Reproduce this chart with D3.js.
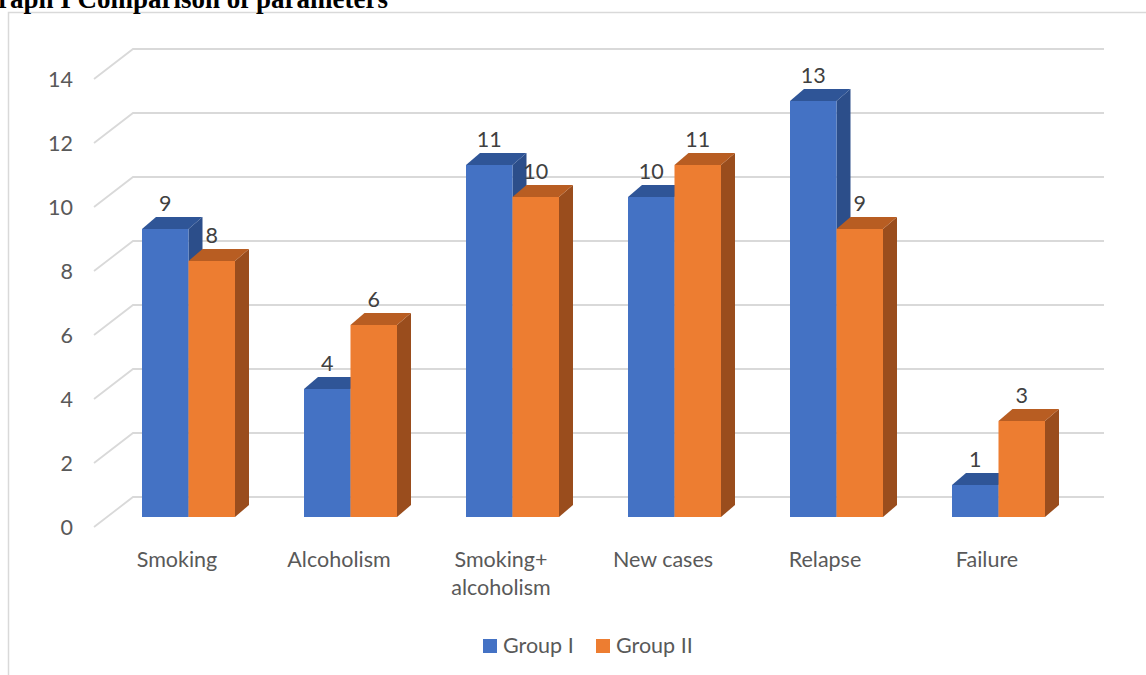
<!DOCTYPE html>
<html>
<head>
<meta charset="utf-8">
<script src="https://cdn.jsdelivr.net/npm/d3@7"></script>
<style>
  html, body { margin: 0; padding: 0; background: #fff; }
  svg { display: block; }
</style>
</head>
<body>
<svg id="chart" width="1146" height="675"></svg>
<script>
const categories = ["Smoking", "Alcoholism", "Smoking+\nalcoholism", "New cases", "Relapse", "Failure"];
const seriesNames = ["Group I", "Group II"];
const groupI  = [9, 4, 11, 10, 13, 1];
const groupII = [8, 6, 10, 11, 9, 3];
const yTicks = [0, 2, 4, 6, 8, 10, 12, 14];
const titleText = "Graph I Comparison of parameters";

const seriesValues = [groupI, groupII];
const colors = [
  {front: "#4472C4", top: "#2F5597", side: "#2C4E8A"},
  {front: "#ED7D31", top: "#B85D22", side: "#9A4D1D"}
];

const svg = d3.select("#chart");
const FONT = "Lato, 'Open Sans', sans-serif";
const TXT = "#595959";
const GRID = "#d9d9d9";

// geometry
const frontLeft = 94, frontRight = 1066;
const depthX = 39, depthY = 30;      // floor side diagonal
const barDX = 14, barDY = 12;        // bar depth
const barFrontOffset = 20;           // bar front base below back wall base

const x0 = d3.scaleBand().domain(categories).range([frontLeft, frontRight]);
const x1 = d3.scaleBand().domain(seriesNames).range([48, 141]);
// back wall y scale
const yBack = d3.scaleLinear().domain([0, 14]).range([497, 49]);
const yBar = v => yBack(v) + barFrontOffset;
const yFront = v => yBack(v) + depthY;

// chart border
svg.append("path")
  .attr("d", `M8.5,675 L8.5,12.5 L1146,12.5`)
  .attr("fill", "none").attr("stroke", GRID).attr("stroke-width", 1.5);

// title
svg.append("text")
  .attr("x", 388).attr("y", 8)
  .attr("text-anchor", "end")
  .attr("font-family", "'Liberation Serif', 'Times New Roman', serif")
  .attr("font-weight", "bold").attr("font-size", 27)
  .attr("fill", "#000")
  .text(titleText);

// gridlines: diagonal on side floor + back wall line
const grid = svg.append("g");
yTicks.forEach(t => {
  grid.append("path")
    .attr("d", `M${frontLeft},${yFront(t)} L${frontLeft + depthX},${yBack(t)} L${frontRight + depthX - 1},${yBack(t)}`)
    .attr("fill", "none").attr("stroke", GRID).attr("stroke-width", 1.8);
});

// y axis labels
const yAxis = d3.axisLeft(d3.scaleLinear().domain([0, 14]).range([yFront(0), yFront(14)]))
  .tickValues(yTicks).tickSize(0).tickPadding(0);
const yg = svg.append("g").attr("transform", `translate(73,0)`).call(yAxis);
yg.select(".domain").remove();
yg.selectAll("text")
  .attr("font-family", FONT).attr("font-size", 21.5).attr("fill", TXT)
  .attr("dy", "0.36em");

// bars
const barsG = svg.append("g");
categories.forEach((c, i) => {
  seriesNames.forEach((s, j) => {
    const v = seriesValues[j][i];
    const xl = x0(c) + x1(s);
    const w = x1.bandwidth();
    const yt = yBar(v), yb = yBar(0);
    const col = colors[j];
    // side
    barsG.append("path")
      .attr("d", `M${xl + w},${yt} L${xl + w + barDX},${yt - barDY} L${xl + w + barDX},${yb - barDY} L${xl + w},${yb} Z`)
      .attr("fill", col.side);
    // top
    barsG.append("path")
      .attr("d", `M${xl},${yt} L${xl + barDX},${yt - barDY} L${xl + w + barDX},${yt - barDY} L${xl + w},${yt} Z`)
      .attr("fill", col.top);
    // front
    barsG.append("rect")
      .attr("x", xl).attr("y", yt).attr("width", w).attr("height", yb - yt)
      .attr("fill", col.front);
  });
});

// data labels
const lblG = svg.append("g");
categories.forEach((c, i) => {
  seriesNames.forEach((s, j) => {
    const v = seriesValues[j][i];
    lblG.append("text")
      .attr("x", x0(c) + x1(s) + x1.bandwidth() / 2)
      .attr("y", yBar(v) - 18)
      .attr("text-anchor", "middle")
      .attr("font-family", FONT).attr("font-size", 21.5).attr("fill", "#404040")
      .text(v);
  });
});

// category labels
const xg = svg.append("g");
categories.forEach(c => {
  const lines = c.split("\n");
  const t = xg.append("text")
    .attr("x", x0(c) + x0.bandwidth() / 2 + 2)
    .attr("y", 567)
    .attr("text-anchor", "middle")
    .attr("font-family", FONT).attr("font-size", 21.5).attr("fill", TXT);
  lines.forEach((ln, k) => {
    t.append("tspan").attr("x", x0(c) + x0.bandwidth() / 2 + 2)
      .attr("dy", k === 0 ? 0 : 28).text(ln);
  });
});

// legend
const legendX = [483, 596];
const lg = svg.append("g");
seriesNames.forEach((s, j) => {
  lg.append("rect").attr("x", legendX[j]).attr("y", 639).attr("width", 14).attr("height", 14)
    .attr("fill", colors[j].front);
  lg.append("text").attr("x", legendX[j] + 20).attr("y", 653)
    .attr("font-family", FONT).attr("font-size", 21.5).attr("fill", TXT)
    .text(s);
});
</script>
</body>
</html>
